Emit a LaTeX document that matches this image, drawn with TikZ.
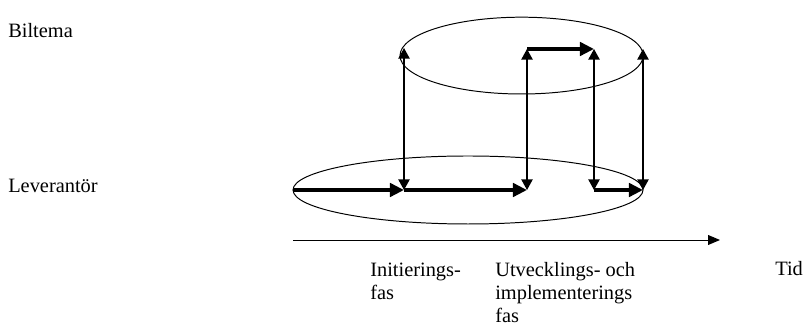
\documentclass[tikz,border=0pt]{standalone}
\usepackage{fontspec}
\setmainfont{Liberation Serif}
\usepackage{tikz}
\usetikzlibrary{arrows.meta,shapes.geometric}

\begin{document}
\begin{tikzpicture}[
  lbl/.style={inner sep=0pt,anchor=base west,align=left,font=\fontsize{14.5}{16.5}\selectfont},
  ring/.style={draw,ellipse,line width=0.7pt,inner sep=0pt},
  flow/.style={-{Triangle[length=10pt,width=9.5pt]},line width=2.6pt},
  link/.style={{Triangle[length=7.5pt,width=8pt]}-{Triangle[length=7.5pt,width=8pt]},line width=0.9pt}]
  \useasboundingbox (0,0) rectangle (20.15,8.15);
  % the two parties
  \node[ring,minimum width=6.08cm,minimum height=1.92cm] (bil) at (13.04,6.76){};
  \node[ring,minimum width=8.75cm,minimum height=1.70cm] (lev) at (11.70,3.40){};
  \node[lbl] (tbil) at (0.2,7.2){Biltema};
  \node[lbl] (tlev) at (0.2,3.325){Leverantör};
  % points on the process path
  \coordinate (l0) at (7.325,3.4);
  \coordinate (l1) at (10.1,3.4);
  \coordinate (l2) at (13.175,3.4);
  \coordinate (l3) at (14.85,3.4);
  \coordinate (l4) at (16.075,3.4);
  \coordinate (u1) at (10.1,6.95);
  \coordinate (u2) at (13.175,6.925);
  \coordinate (u3) at (14.85,6.925);
  \coordinate (u4) at (16.075,6.925);
  \draw[flow] (l0)--(l1); \draw[flow] (l1)--(l2);
  \draw[flow] (u2)--(u3); \draw[flow] (l3)--(l4);
  \draw[link] (l1)--(u1); \draw[link] (l2)--(u2);
  \draw[link] (l3)--(u3); \draw[link] (l4)--(u4);
  % time axis
  \coordinate (t0) at (7.325,2.15);
  \coordinate (t1) at (18.0,2.15);
  \draw[-{Triangle[length=8.5pt,width=7pt]},line width=0.7pt] (t0)--(t1);
  \node[lbl] (init) at (9.25,0.65){Initierings-\\fas};
  \node[lbl] (utv) at (12.375,0.075){Utvecklings- och\\implementerings\\fas};
  \node[lbl] (tid) at (19.375,1.25){Tid};
\end{tikzpicture}
\end{document}
